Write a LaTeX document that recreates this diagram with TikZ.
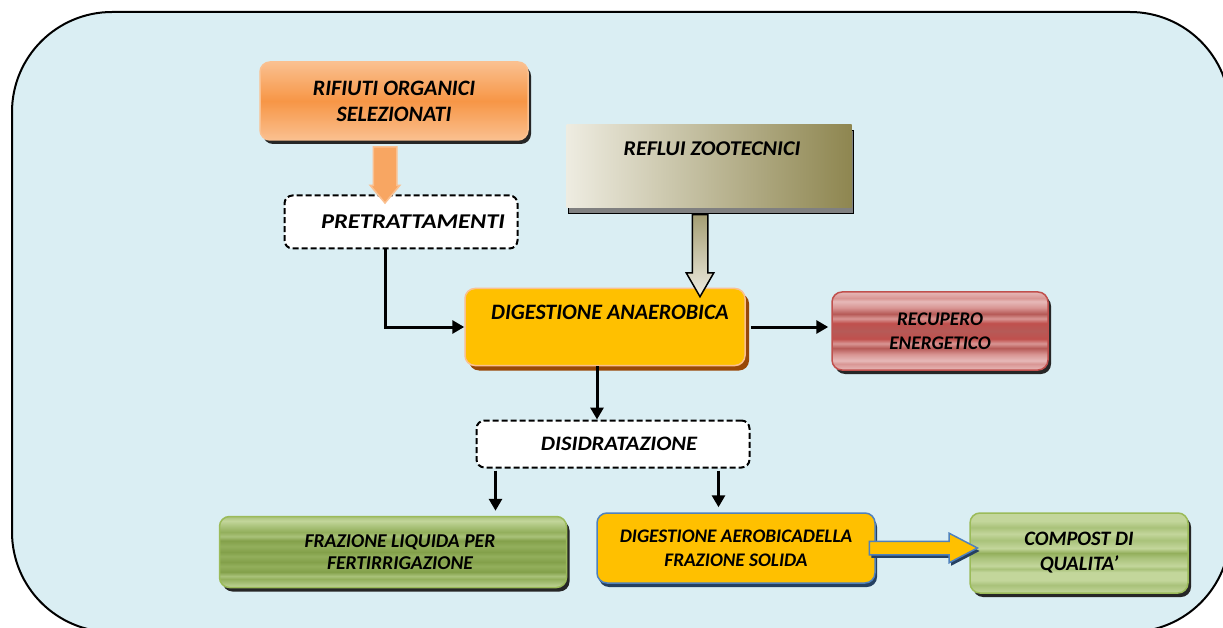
\documentclass[tikz,border=0pt]{standalone}
\usepackage{fontspec}
\setmainfont{Carlito}
\usetikzlibrary{positioning,calc,shapes.arrows,shadows,arrows.meta}

% colori
\definecolor{sfondo}{HTML}{DAEEF3}
\definecolor{arancio}{HTML}{F79646}
\definecolor{aranciochiaro}{HTML}{FAC090}
\definecolor{giallo}{HTML}{FFC000}
\definecolor{blu}{HTML}{4F81BD}
\definecolor{bludark}{HTML}{254061}
\definecolor{marrone}{HTML}{984807}
\definecolor{rosso}{HTML}{C0504D}
\definecolor{rossoA}{HTML}{E6B9B8}
\definecolor{rossoB}{HTML}{D99694}
\definecolor{rossoC}{HTML}{B65A57}
\definecolor{verdeA}{HTML}{C3D69B}
\definecolor{verdeB}{HTML}{A9C27A}
\definecolor{verdeC}{HTML}{93AF5C}
\definecolor{verdeD}{HTML}{83A04A}
\definecolor{verde}{HTML}{9BBB59}
\definecolor{oliva}{HTML}{8E8650}
\definecolor{beige}{HTML}{EEECE1}
\definecolor{beigemedio}{HTML}{C4BD97}

% sfumature
\pgfdeclareverticalshading{arancione}{100bp}{color(0bp)=(aranciochiaro); color(25bp)=(aranciochiaro);
  color(50bp)=(arancio); color(75bp)=(aranciochiaro); color(100bp)=(aranciochiaro)}
\pgfdeclareverticalshading{righerosse}{100bp}{color(0bp)=(rossoA); color(25bp)=(rossoA);
  color(29bp)=(rossoB); color(31bp)=(rossoA); color(35bp)=(rossoB); color(39bp)=(rossoC);
  color(42bp)=(rossoB); color(45bp)=(rosso); color(50bp)=(rossoC); color(55bp)=(rosso);
  color(58bp)=(rossoB); color(61bp)=(rossoC); color(65bp)=(rossoB); color(69bp)=(rossoA);
  color(71bp)=(rossoB); color(75bp)=(rossoA); color(100bp)=(rossoA)}
\pgfdeclareverticalshading{righeverdi}{100bp}{color(0bp)=(verdeA); color(25bp)=(verdeA);
  color(28bp)=(verdeB); color(31bp)=(verdeC); color(33bp)=(verdeB); color(36bp)=(verdeD);
  color(40bp)=(verdeC); color(43bp)=(verdeD); color(47bp)=(verdeC); color(50bp)=(verdeD);
  color(54bp)=(verdeC); color(58bp)=(verdeD); color(61bp)=(verdeB); color(64bp)=(verdeC);
  color(68bp)=(verdeB); color(72bp)=(verdeA); color(75bp)=(verdeB); color(100bp)=(verdeB)}
\pgfdeclareverticalshading{righeverdichiare}{100bp}{color(0bp)=(verdeA); color(25bp)=(verdeA);
  color(30bp)=(verdeB); color(33bp)=(verdeA); color(38bp)=(verdeA); color(40bp)=(verdeB);
  color(42bp)=(verdeA); color(47bp)=(verdeB); color(50bp)=(verdeC); color(53bp)=(verdeA);
  color(58bp)=(verdeB); color(62bp)=(verdeA); color(66bp)=(verdeB); color(70bp)=(verdeA);
  color(75bp)=(verdeA); color(100bp)=(verdeA)}

\newcommand\corpo[2]{\fontsize{#1}{#2}\selectfont\bfseries\itshape}

\begin{document}
\begin{tikzpicture}[x=1pt, y=-1pt, >={Triangle[length=12pt,width=13pt]},
  blocco/.style={rounded corners=10pt, inner sep=0pt, align=center},
  ombra/.style={drop shadow={shadow xshift=3pt, shadow yshift=-4pt, fill=black!85, opacity=1}},
  fase/.style={blocco, rounded corners=8pt, draw=black, fill=white, line width=2pt,
    dash pattern=on 6pt off 3pt},
  freccia/.style={line width=3pt},
  frecciablocco/.style={single arrow, inner xsep=0pt, line width=1.5pt}]

\useasboundingbox (0,0) rectangle (1223,628);
\begin{scope}
  \clip (0,0) rectangle (1223,628);
  \fill[white] (0,0) rectangle (1223,628);
  \draw[line width=2pt, fill=sfondo, rounded corners=100pt] (12,12) rectangle (1230,632);
\end{scope}

% ingressi
\node[blocco, shading=arancione, draw=aranciochiaro, line width=1.5pt, ombra,
  minimum width=268, minimum height=78, font=\corpo{22}{26}]
  (rifiuti) at (394,101) {RIFIUTI ORGANICI\\SELEZIONATI};
\node[blocco, sharp corners, left color=beige, middle color=beigemedio, right color=oliva,
  drop shadow={shadow xshift=2pt, shadow yshift=-6pt, fill=black!50, draw=black, opacity=1},
  minimum width=285, minimum height=83, text depth=34pt, font=\corpo{21}{24}\addfontfeature{FakeStretch=1.05}]
  (reflui) at (709,166) {\hspace*{6pt}REFLUI ZOOTECNICI};
\node[fase, minimum width=233, minimum height=53,
  font=\corpo{21}{22}\addfontfeature{FakeStretch=1.17}]
  (pre) at (401,222) {\hspace*{24pt}PRETRATTAMENTI};

% digestione
\node[blocco, fill=giallo, draw=aranciochiaro, line width=1.5pt,
  drop shadow={shadow xshift=4pt, shadow yshift=-5pt, fill=marrone, opacity=1},
  minimum width=280, minimum height=77, text depth=30pt, font=\corpo{22}{24}]
  (digan) at (605,327) {\hspace*{10pt}DIGESTIONE ANAEROBICA};
\node[blocco, shading=righerosse, draw=rosso, line width=1.5pt, ombra,
  minimum width=216, minimum height=78, font=\corpo{19.3}{24}]
  (recupero) at (940,331) {RECUPERO\\ENERGETICO};
\node[fase, minimum width=273, minimum height=47,
  font=\corpo{20.5}{22}\addfontfeature{FakeStretch=1.1}]
  (disidrat) at (613,444) {\hspace*{12pt}DISIDRATAZIONE};

% uscite
\node[blocco, shading=righeverdi, draw=verde, line width=1.5pt, ombra,
  minimum width=347, minimum height=71, font=\corpo{19.6}{22}]
  (frazliq) at (393,552) {\hspace*{14pt}FRAZIONE LIQUIDA PER\\\hspace*{14pt}FERTIRRIGAZIONE};
\node[blocco, fill=giallo, draw=blu, line width=1.5pt,
  drop shadow={shadow xshift=2pt, shadow yshift=-4pt, fill=bludark, opacity=1},
  minimum width=278, minimum height=70, font=\corpo{19.2}{24}]
  (digaer) at (736,548) {DIGESTIONE AEROBICADELLA\\FRAZIONE SOLIDA};
\node[blocco, shading=righeverdichiare, draw=verde, line width=1.5pt, ombra,
  minimum width=218, minimum height=80, font=\corpo{20.5}{25}]
  (compost) at (1079,553) {COMPOST DI\\QUALITA’};

% frecce a blocco
\node[frecciablocco, rotate=-90, fill=arancio!85, draw=aranciochiaro,
  minimum height=56, minimum width=28, inner ysep=11pt,
  single arrow head extend=3pt, single arrow tip angle=80]
  (f-rifiuti) at (385,168) {};
\node[frecciablocco, rotate=-90, top color=oliva!80, bottom color=beige, draw=black,
  minimum height=82, minimum width=26, inner ysep=7pt,
  single arrow head extend=6pt, single arrow tip angle=60]
  (f-reflui) at (700,249) {};
\node[frecciablocco, fill=giallo, draw=blu,
  drop shadow={shadow xshift=2pt, shadow yshift=-3pt, fill=bludark, opacity=1},
  minimum height=108, minimum width=28, inner ysep=6pt,
  single arrow head extend=8pt, single arrow tip angle=55]
  (f-compost) at (917,548) {};

% collegamenti
\draw [freccia, ->] ([xshift=-16pt]pre.south) |- (digan.west);
\draw [freccia, ->] ([xshift=5pt]digan.east) -- ([xshift=-3pt]digan.east -| recupero.west);
\coordinate (d0) at ($(digan.south)+(-8,0)$);
\draw [freccia, ->] (d0) -- (d0 |- disidrat.north);

\foreach \dx/\dest in {20/frazliq, 243/digaer}
  \coordinate (d-\dest) at ($(disidrat.south west)+(\dx,2)$);
\foreach \dest in {frazliq, digaer}
  \draw [freccia, ->, shorten >=5pt] (d-\dest) -- (d-\dest |- \dest.north);
\end{tikzpicture}
\end{document}
